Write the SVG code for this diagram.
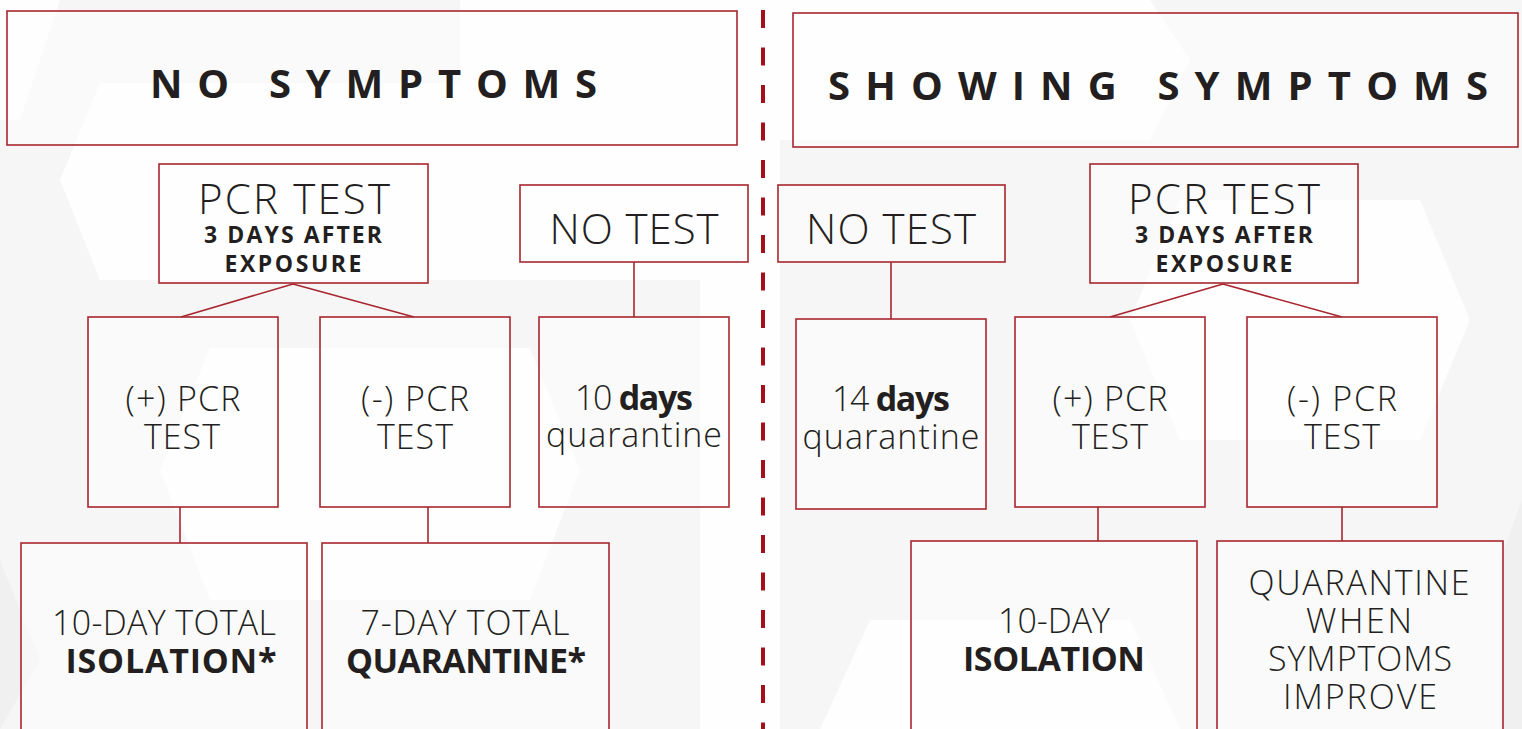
<svg xmlns="http://www.w3.org/2000/svg" width="1522" height="729" viewBox="0 0 1522 729">
<style>
.box{fill:#ffffff;fill-opacity:0.45;stroke:#a8262f;stroke-width:1.6}
.conn{stroke:#a8262f;stroke-width:1.6;fill:none}
.t{font-family:"Open Sans","Liberation Sans",sans-serif;fill:#231f20;text-anchor:middle}
.lt{font-weight:300;font-size:34px}
.bd{font-weight:700}
.hd{font-family:"Open Sans","Liberation Sans",sans-serif;font-weight:700;font-size:40px;fill:#231f20}
.hex{fill:#ffffff}
.hex2{fill:#f0f0f0}
</style>
<rect x="0" y="0" width="1522" height="729" fill="#f6f6f6"/>
<g id="background" opacity="0.9">
<polygon class="hex" points="100,83 718,83 760,180 718,280 100,280 60,180"/>
<polygon class="hex" points="210,348 530,348 580,470 530,600 210,600 160,470"/>
<polygon class="hex" points="0,0 60,0 20,120 0,120"/>
<polygon class="hex" points="460,0 1150,0 1190,60 1150,140 460,140"/>
<polygon class="hex" points="1180,200 1420,200 1470,320 1420,440 1180,440 1130,320"/>
<polygon class="hex" points="870,620 1130,620 1180,729 820,729"/>
<polygon class="hex2" points="1500,560 1522,500 1522,729 1500,729"/>
<polygon class="hex2" points="0,560 40,660 0,729"/>
<polygon class="hex" points="700,0 780,0 780,729 700,729"/>
</g>
<line x1="763" y1="10" x2="763" y2="729" stroke="#a3101c" stroke-width="4" stroke-dasharray="18 19.5"/>
<g id="connectors">
<path class="conn" d="M293,284 L181,317 M293,284 L414,317"/>
<path class="conn" d="M634,262 L634,317"/>
<path class="conn" d="M180,507 L180,543"/>
<path class="conn" d="M428,507 L428,543"/>
<path class="conn" d="M891,262 L891,319"/>
<path class="conn" d="M1223,284 L1110,317 M1223,284 L1342,317"/>
<path class="conn" d="M1098,507 L1098,541"/>
<path class="conn" d="M1342,507 L1342,541"/>
</g>
<g id="header-no-symptoms">
<rect class="box" x="7" y="11" width="730" height="134"/>
<text class="hd" x="150" y="98" textLength="447" lengthAdjust="spacing">NO SYMPTOMS</text>
</g>
<g id="header-showing-symptoms">
<rect class="box" x="793" y="13" width="725" height="134"/>
<text class="hd" x="828" y="100" textLength="660" lengthAdjust="spacing">SHOWING SYMPTOMS</text>
</g>
<g id="pcr-left">
<rect class="box" x="159" y="164" width="269" height="119"/>
<text class="t" x="294" y="214" textLength="192" lengthAdjust="spacing" style="font-weight:300;font-size:42px">PCR TEST</text>
<text class="t bd" x="293" y="243" textLength="178" lengthAdjust="spacing" style="font-size:23px">3 DAYS AFTER</text>
<text class="t bd" x="293" y="272" textLength="137" lengthAdjust="spacing" style="font-size:23px">EXPOSURE</text>
</g>
<g id="notest-left">
<rect class="box" x="520" y="185" width="228" height="77"/>
<text class="t" x="634" y="244" textLength="169" lengthAdjust="spacing" style="font-weight:300;font-size:42px">NO TEST</text>
</g>
<g id="notest-right">
<rect class="box" x="778" y="185" width="227" height="77"/>
<text class="t" x="891" y="244" textLength="170" lengthAdjust="spacing" style="font-weight:300;font-size:42px">NO TEST</text>
</g>
<g id="pcr-right">
<rect class="box" x="1090" y="164" width="268" height="119"/>
<text class="t" x="1224" y="214" textLength="192" lengthAdjust="spacing" style="font-weight:300;font-size:42px">PCR TEST</text>
<text class="t bd" x="1224" y="243" textLength="178" lengthAdjust="spacing" style="font-size:23px">3 DAYS AFTER</text>
<text class="t bd" x="1224" y="272" textLength="137" lengthAdjust="spacing" style="font-size:23px">EXPOSURE</text>
</g>
<g id="pos-left">
<rect class="box" x="88" y="317" width="190" height="190"/>
<text class="t lt" x="183" y="411" textLength="115" lengthAdjust="spacing">(+) PCR</text>
<text class="t lt" x="182" y="449" textLength="76" lengthAdjust="spacing">TEST</text>
</g>
<g id="neg-left">
<rect class="box" x="320" y="317" width="190" height="190"/>
<text class="t lt" x="415" y="411" textLength="108" lengthAdjust="spacing">(-) PCR</text>
<text class="t lt" x="415" y="449" textLength="76" lengthAdjust="spacing">TEST</text>
</g>
<g id="ten-days">
<rect class="box" x="539" y="317" width="190" height="190"/>
<text class="t lt" x="634" y="410" textLength="118" lengthAdjust="spacing">10 <tspan class="bd">days</tspan></text>
<text class="t lt" x="634" y="447" textLength="176" lengthAdjust="spacing">quarantine</text>
</g>
<g id="fourteen-days">
<rect class="box" x="796" y="319" width="190" height="190"/>
<text class="t lt" x="891" y="411" textLength="118" lengthAdjust="spacing">14 <tspan class="bd">days</tspan></text>
<text class="t lt" x="891" y="449" textLength="177" lengthAdjust="spacing">quarantine</text>
</g>
<g id="pos-right">
<rect class="box" x="1015" y="317" width="190" height="190"/>
<text class="t lt" x="1110" y="411" textLength="115" lengthAdjust="spacing">(+) PCR</text>
<text class="t lt" x="1110" y="449" textLength="76" lengthAdjust="spacing">TEST</text>
</g>
<g id="neg-right">
<rect class="box" x="1247" y="317" width="190" height="190"/>
<text class="t lt" x="1342" y="411" textLength="110" lengthAdjust="spacing">(-) PCR</text>
<text class="t lt" x="1342" y="449" textLength="76" lengthAdjust="spacing">TEST</text>
</g>
<g id="isolation-left">
<rect class="box" x="21" y="543" width="286" height="200"/>
<text class="t lt" x="164" y="635" textLength="224" lengthAdjust="spacing">10-DAY TOTAL</text>
<text class="t lt bd" x="171" y="673" textLength="211" lengthAdjust="spacing">ISOLATION*</text>
</g>
<g id="quarantine-left">
<rect class="box" x="322" y="543" width="287" height="200"/>
<text class="t lt" x="465" y="635" textLength="209" lengthAdjust="spacing">7-DAY TOTAL</text>
<text class="t lt bd" x="466" y="673" textLength="240" lengthAdjust="spacing">QUARANTINE*</text>
</g>
<g id="isolation-right">
<rect class="box" x="911" y="541" width="286" height="200"/>
<text class="t lt" x="1054" y="633" textLength="112" lengthAdjust="spacing">10-DAY</text>
<text class="t lt bd" x="1054" y="671" textLength="182" lengthAdjust="spacing">ISOLATION</text>
</g>
<g id="quarantine-right">
<rect class="box" x="1217" y="541" width="286" height="200"/>
<text class="t lt" x="1359" y="595" textLength="221" lengthAdjust="spacing">QUARANTINE</text>
<text class="t lt" x="1359" y="633" textLength="106" lengthAdjust="spacing">WHEN</text>
<text class="t lt" x="1360" y="671" textLength="184" lengthAdjust="spacing">SYMPTOMS</text>
<text class="t lt" x="1360" y="709" textLength="154" lengthAdjust="spacing">IMPROVE</text>
</g>
</svg>
